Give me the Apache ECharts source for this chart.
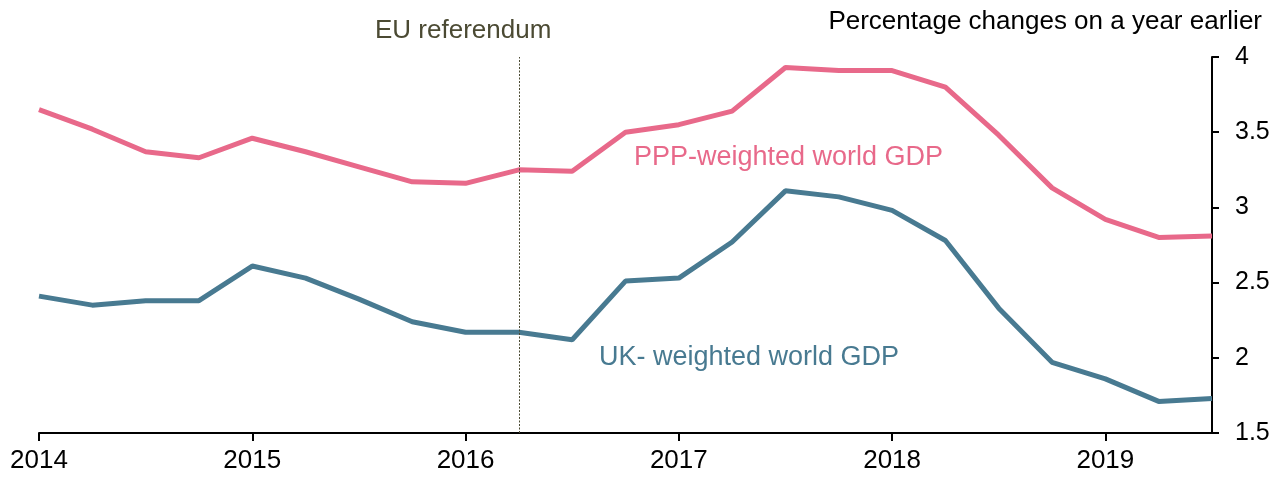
<!DOCTYPE html>
<html>
<head>
<meta charset="utf-8">
<script src="https://cdn.jsdelivr.net/npm/echarts@6/dist/echarts.min.js"></script>
<style>
  html, body { margin: 0; padding: 0; background: #fff; }
  #chart { width: 1284px; height: 480px; }
</style>
</head>
<body>
<div id="chart"></div>
<script>
// quarters (decimal years)
const quarters = [
  2014.0, 2014.25, 2014.5, 2014.75,
  2015.0, 2015.25, 2015.5, 2015.75,
  2016.0, 2016.25, 2016.5, 2016.75,
  2017.0, 2017.25, 2017.5, 2017.75,
  2018.0, 2018.25, 2018.5, 2018.75,
  2019.0, 2019.25, 2019.5,
];
const pppWeighted = [
  3.65, 3.52, 3.37, 3.33,
  3.46, 3.37, 3.27, 3.17,
  3.16, 3.25, 3.24, 3.50,
  3.55, 3.64, 3.93, 3.91,
  3.91, 3.80, 3.48, 3.13,
  2.92, 2.80, 2.81,
];
const ukWeighted = [
  2.41, 2.35, 2.38, 2.38,
  2.61, 2.53, 2.39, 2.24,
  2.17, 2.17, 2.12, 2.51,
  2.53, 2.77, 3.11, 3.07,
  2.98, 2.78, 2.33, 1.97,
  1.86, 1.71, 1.73,
];
const referendumDate = 2016.25;
const yearTicks = [2014, 2015, 2016, 2017, 2018, 2019];

const pink = '#e8698a';
const blue = '#487a91';
const font = 'Liberation Sans, Arial, sans-serif';

const chart = echarts.init(document.getElementById('chart'));
chart.setOption({
  animation: false,
  grid: { left: 39, right: 72, top: 57, bottom: 47 },
  xAxis: {
    type: 'value',
    min: 2014,
    max: 2019.5,
    interval: 1,
    splitLine: { show: false },
    axisLine: { lineStyle: { color: '#000', width: 2 } },
    axisTick: { show: true, inside: false, length: 8, lineStyle: { color: '#000', width: 2 } },
    axisLabel: {
      color: '#000', fontSize: 26, fontFamily: font, margin: 15,
      showMaxLabel: false,
      formatter: v => (yearTicks.includes(v) ? String(v) : ''),
    },
  },
  yAxis: {
    type: 'value',
    position: 'right',
    min: 1.5,
    max: 4,
    interval: 0.5,
    splitLine: { show: false },
    axisLine: { show: true, lineStyle: { color: '#000', width: 2 } },
    axisTick: { show: true, length: 7, lineStyle: { color: '#000', width: 2 } },
    axisLabel: { color: '#000', fontSize: 25, fontFamily: font, margin: 23 },
  },
  series: [
    {
      name: 'PPP-weighted world GDP',
      type: 'line',
      data: quarters.map((q, i) => [q, pppWeighted[i]]),
      symbol: 'none',
      lineStyle: { color: pink, width: 5 },
      markLine: {
        silent: true,
        symbol: 'none',
        label: { show: false },
        lineStyle: { color: '#4b4a33', type: [2, 1.5], width: 1 },
        data: [{ xAxis: referendumDate }],
      },
    },
    {
      name: 'UK- weighted world GDP',
      type: 'line',
      data: quarters.map((q, i) => [q, ukWeighted[i]]),
      symbol: 'none',
      lineStyle: { color: blue, width: 5 },
    },
  ],
  graphic: [
    {
      type: 'text', right: 22, top: 9,
      style: { text: 'Percentage changes on a year earlier', fontSize: 26, fontFamily: font, fill: '#000' },
    },
    {
      type: 'text', left: 375, top: 18,
      style: { text: 'EU referendum', fontSize: 26, fontFamily: font, fill: '#4b4a33' },
    },
    {
      type: 'text', left: 634, top: 144,
      style: { text: 'PPP-weighted world GDP', fontSize: 27, fontFamily: font, fill: pink },
    },
    {
      type: 'text', left: 599, top: 344,
      style: { text: 'UK- weighted world GDP', fontSize: 27, fontFamily: font, fill: blue },
    },
  ],
});
</script>
</body>
</html>
